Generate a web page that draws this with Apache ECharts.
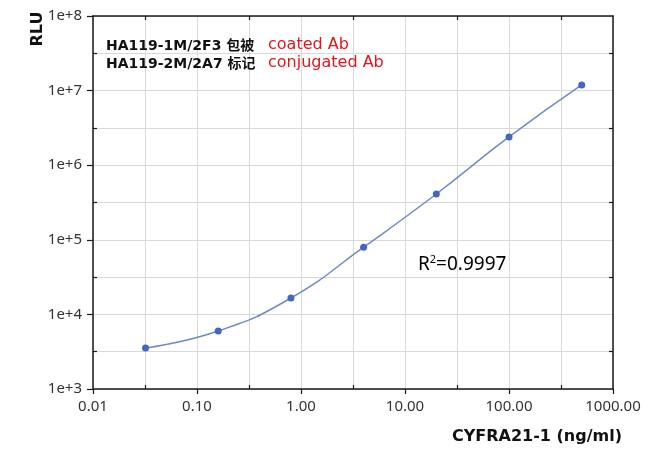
<!DOCTYPE html>
<html><head><meta charset="utf-8">
<script src="https://cdn.jsdelivr.net/npm/echarts@6/dist/echarts.min.js"></script>
<style>html,body{margin:0;padding:0;background:#fff}#c{width:656px;height:462px}</style>
</head><body><div id="c"></div>
<script>
const concentrations = [0.032, 0.16, 0.8, 4, 20, 100, 500];
const rlu = [3540, 5990, 16600, 79500, 411000, 2390000, 11900000];
const xTickLabels = ['0.01', '0.10', '1.00', '10.00', '100.00', '1000.00'];
const yTickLabels = ['1e+3', '1e+4', '1e+5', '1e+6', '1e+7', '1e+8'];
const annotLines = [['HA119-1M/2F3 包被', 'coated Ab'], ['HA119-2M/2A7 标记', 'conjugated Ab']];
const r2Text = '0.9997';
const xTitle = 'CYFRA21-1 (ng/ml)';
const yTitle = 'RLU';

const xDecades = [0.01, 0.1, 1, 10, 100, 1000];
const yDecades = [1e3, 1e4, 1e5, 1e6, 1e7, 1e8];
const halfTicks = arr => arr.slice(0, -1).map(v => v * Math.sqrt(10));
const xHalf = halfTicks(xDecades);
const yHalf = halfTicks(yDecades);

const chart = echarts.init(document.getElementById('c'));
const font = '"Noto Sans", sans-serif';
const gridColor = '#d9d9d9';
const axisColor = '#1a1a1a';
const baseX = {type:'log', min:0.01, max:1000, logBase:10};
const baseY = {type:'log', min:1e3, max:1e8, logBase:10};
const hidden = {axisLine:{show:false}, axisTick:{show:false}, axisLabel:{show:false}};
chart.setOption({
  animation:false,
  grid:{left:93, right:43, top:16, bottom:73, containLabel:false, outerBoundsMode:'none'},
  xAxis:[Object.assign({}, baseX, {
    position:'bottom',
    axisLine:{show:true, onZero:false, lineStyle:{color:axisColor, width:1.5}},
    axisTick:{show:true, length:5, lineStyle:{color:axisColor, width:1.2}, customValues:xDecades},
    splitLine:{show:false},
    axisLabel:{color:'#333', fontSize:15, fontFamily:font, margin:10, customValues:xDecades,
      formatter:(v)=>xTickLabels[xDecades.findIndex(d=>Math.abs(Math.log10(d)-Math.log10(v))<1e-6)] || ''},
    name:xTitle, nameLocation:'end', nameGap:0,
    nameTextStyle:{fontSize:16, fontWeight:'bold', color:'#111', fontFamily:'"DejaVu Sans", sans-serif', align:'right', verticalAlign:'top', padding:[40,-9,0,0]},
    z:3
  }), Object.assign({
    // half-decade grid (log10 exponent space)
    type:'value', min:-2, max:3, interval:0.5, position:'bottom',
    splitLine:{show:true, lineStyle:{color:gridColor, width:1}}
  }, hidden), Object.assign({}, baseX, {
    position:'bottom',
    axisLine:{show:false},
    axisTick:{show:true, inside:true, length:4, lineStyle:{color:axisColor, width:1.2}, customValues:xHalf},
    axisLabel:{show:false}, splitLine:{show:false}
  }), Object.assign({}, baseX, {
    position:'top',
    axisLine:{show:true, onZero:false, lineStyle:{color:axisColor, width:1.5}},
    axisTick:{show:true, inside:true, length:4, lineStyle:{color:axisColor, width:1.2}, customValues:xHalf},
    axisLabel:{show:false}, splitLine:{show:false}
  })],
  yAxis:[Object.assign({}, baseY, {
    position:'left',
    axisLine:{show:true, onZero:false, lineStyle:{color:axisColor, width:1.5}},
    axisTick:{show:true, length:6, lineStyle:{color:axisColor, width:1.2}, customValues:yDecades},
    splitLine:{show:false},
    axisLabel:{color:'#333', fontSize:15, fontFamily:font, margin:11, customValues:yDecades,
      formatter:(v)=>yTickLabels[yDecades.findIndex(d=>Math.abs(Math.log10(d)-Math.log10(v))<1e-6)] || ''},
    z:3
  }), Object.assign({
    type:'value', min:3, max:8, interval:0.5, position:'left',
    splitLine:{show:true, lineStyle:{color:gridColor, width:1}}
  }, hidden), Object.assign({}, baseY, {
    position:'left',
    axisLine:{show:false},
    axisTick:{show:true, inside:true, length:4, lineStyle:{color:axisColor, width:1.2}, customValues:yHalf},
    axisLabel:{show:false}, splitLine:{show:false}
  }), Object.assign({}, baseY, {
    position:'right',
    axisLine:{show:true, onZero:false, lineStyle:{color:axisColor, width:1.5}},
    axisTick:{show:true, inside:true, length:4, lineStyle:{color:axisColor, width:1.2}, customValues:yHalf},
    axisLabel:{show:false}, splitLine:{show:false}
  })],
  series:[{
    type:'line', xAxisIndex:0, yAxisIndex:0,
    data:concentrations.map((c,i)=>[c, rlu[i]]),
    smooth:0.5, symbol:'circle', symbolSize:7,
    lineStyle:{color:'#6f8ac6', width:1.5},
    itemStyle:{color:'#4466c2'}, z:5
  }],
  graphic:[
    {type:'text', x:38, y:29, rotation:Math.PI/2, z:10, style:{text:yTitle, font:'bold 16px "DejaVu Sans", sans-serif', fill:'#111', align:'center', verticalAlign:'middle'}},
    ...annotLines.flatMap((l,i)=>[
      {type:'text', left:106, top:39+i*18, z:10, style:{text:l[0], font:'bold 14px "DejaVu Sans", "Noto Sans CJK SC", sans-serif', fill:'#111'}},
      {type:'text', left:268, top:37+i*18, z:10, style:{text:l[1], font:'16px "DejaVu Sans", sans-serif', fill:'#e0161c'}}
    ]),
    {type:'text', left:418, top:254, z:10, style:{rich:{a:{fontSize:19, fontFamily:font, color:'#333'}, s:{fontSize:11, fontFamily:font, color:'#333', verticalAlign:'top', padding:[0,0,10,0]}}, text:'{a|R}{s|2}{a|=' + r2Text + '}'}}
  ]
});
</script></body></html>
